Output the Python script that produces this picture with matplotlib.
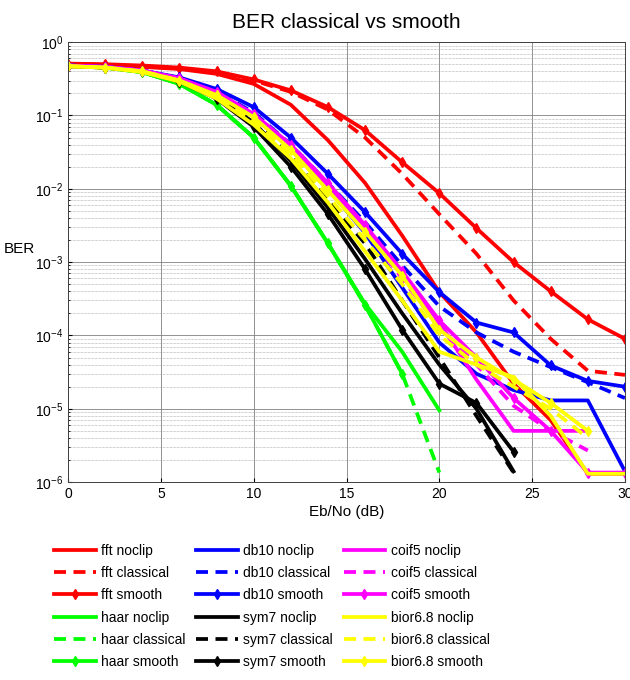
import numpy as np
import matplotlib
matplotlib.use("Agg")
import matplotlib.pyplot as plt
from matplotlib.ticker import LogLocator, FixedLocator

plt.rcParams["font.family"] = ["Liberation Sans", "DejaVu Sans"]
plt.rcParams["mathtext.default"] = "regular"

nan = np.nan
ebno = [0, 2, 4, 6, 8, 10, 12, 14, 16, 18, 20, 22, 24, 26, 28, 30]

# BER per transform and clipping method
fft_noclip = [0.50, 0.49, 0.46, 0.43, 0.37, 0.27, 0.14, 0.046, 0.012, 2.3e-3, 3.9e-4, 1.1e-4, 2.2e-5, 7e-6, 1.3e-6, 1.3e-6]
fft_classical = [0.50, 0.49, 0.47, 0.44, 0.39, 0.30, 0.21, 0.12, 0.05, 0.016, 4.5e-3, 1.3e-3, 3e-4, 9e-5, 3.3e-5, 2.9e-5]
fft_smooth = [0.51, 0.50, 0.48, 0.45, 0.40, 0.31, 0.22, 0.13, 0.063, 0.023, 8.7e-3, 2.9e-3, 1.0e-3, 4.0e-4, 1.66e-4, 9e-5]

haar_noclip = [0.48, 0.45, 0.39, 0.27, 0.14, 0.05, 0.011, 1.8e-3, 2.7e-4, 6e-5, 9.5e-6, nan, nan, nan, nan, nan]
haar_classical = [0.48, 0.45, 0.39, 0.27, 0.14, 0.05, 0.011, 1.8e-3, 2.6e-4, 3e-5, 1.35e-6, nan, nan, nan, nan, nan]
haar_smooth = [0.48, 0.45, 0.39, 0.27, 0.14, 0.05, 0.011, 1.8e-3, 2.6e-4, 3e-5, nan, nan, nan, nan, nan, nan]

db10_noclip = [0.48, 0.46, 0.41, 0.32, 0.20, 0.10, 0.035, 0.010, 2.5e-3, 4.5e-4, 8e-5, 3e-5, 1.8e-5, 1.3e-5, 1.3e-5, 1.4e-6]
db10_classical = [0.48, 0.46, 0.41, 0.32, 0.21, 0.11, 0.040, 0.012, 3.5e-3, 9e-4, 2.5e-4, 1.1e-4, 6e-5, 3.7e-5, 2.3e-5, 1.4e-5]
db10_smooth = [0.48, 0.46, 0.41, 0.33, 0.23, 0.13, 0.050, 0.016, 4.8e-3, 1.3e-3, 3.9e-4, 1.5e-4, 1.1e-4, 3.9e-5, 2.4e-5, 2e-5]

sym7_noclip = [0.47, 0.45, 0.40, 0.30, 0.18, 0.080, 0.024, 5.5e-3, 1.1e-3, 2e-4, 4e-5, 1e-5, 1.4e-6, nan, nan, nan]
sym7_classical = [0.48, 0.46, 0.41, 0.31, 0.19, 0.085, 0.028, 7e-3, 1.8e-3, 3e-4, 5e-5, 8e-6, 1.35e-6, nan, nan, nan]
sym7_smooth = [0.47, 0.45, 0.40, 0.29, 0.17, 0.070, 0.020, 4.5e-3, 8e-4, 1.2e-4, 2.2e-5, 1.2e-5, 2.6e-6, nan, nan, nan]

coif5_noclip = [0.48, 0.46, 0.41, 0.32, 0.20, 0.10, 0.038, 0.011, 3e-3, 7e-4, 1.5e-4, 2.5e-5, 5e-6, 5e-6, 5e-6, nan]
coif5_classical = [0.48, 0.46, 0.41, 0.32, 0.20, 0.10, 0.036, 0.010, 2.7e-3, 6e-4, 1.3e-4, 4e-5, 1.1e-5, 5e-6, 2.7e-6, nan]
coif5_smooth = [0.48, 0.46, 0.41, 0.32, 0.21, 0.105, 0.040, 0.012, 3.2e-3, 7.5e-4, 1.6e-4, 5e-5, 1.4e-5, 5e-6, 1.35e-6, 1.35e-6]

bior_noclip = [0.47, 0.45, 0.39, 0.29, 0.17, 0.075, 0.026, 6.5e-3, 1.4e-3, 3e-4, 6e-5, 4e-5, 2.7e-5, 8e-6, 1.3e-6, 1.3e-6]
bior_classical = [0.47, 0.45, 0.40, 0.30, 0.18, 0.085, 0.030, 8e-3, 2e-3, 5e-4, 1e-4, 4e-5, 2e-5, 1e-5, 4e-6, nan]
bior_smooth = [0.47, 0.45, 0.40, 0.30, 0.19, 0.095, 0.034, 9.5e-3, 2.6e-3, 6.5e-4, 1.2e-4, 5e-5, 2.5e-5, 1.2e-5, 5e-6, nan]

series = [
    ("fft", "#ff0000", fft_noclip, fft_classical, fft_smooth),
    ("haar", "#00ff00", haar_noclip, haar_classical, haar_smooth),
    ("db10", "#0000ff", db10_noclip, db10_classical, db10_smooth),
    ("sym7", "#000000", sym7_noclip, sym7_classical, sym7_smooth),
    ("coif5", "#ff00ff", coif5_noclip, coif5_classical, coif5_smooth),
    ("bior6.8", "#ffff00", bior_noclip, bior_classical, bior_smooth),
]

fig = plt.figure(figsize=(6.3, 6.8), dpi=100)
ax = fig.add_axes([0.108, 0.291, 0.884, 0.647])

lw = 2.7
for name, color, noclip, classical, smooth in series:
    ax.semilogy(ebno, noclip, color=color, lw=lw, label=f"{name} noclip")
    ax.semilogy(ebno, classical, color=color, lw=lw, ls=(0, (3.2, 2.0)),
                label=f"{name} classical")
    ax.semilogy(ebno, smooth, color=color, lw=lw, marker="d", ms=5,
                label=f"{name} smooth")

ax.set_xlim(0, 30)
ax.set_ylim(1e-6, 1)
ax.xaxis.set_major_locator(FixedLocator([0, 5, 10, 15, 20, 25, 30]))
ax.yaxis.set_major_locator(LogLocator(base=10, numticks=10))
ax.yaxis.set_minor_locator(LogLocator(base=10, subs=np.arange(2, 10), numticks=20))
ax.grid(True, which="major", color="#808080", lw=0.6)
ax.grid(True, which="minor", color="#a0a0a0", lw=0.5, ls=(0, (1, 1)))
ax.tick_params(which="both", direction="in", labelsize=10, length=3)
ax.tick_params(which="minor", length=1.5)
for s in ax.spines.values():
    s.set_color("#404040")
    s.set_linewidth(0.7)

ax.set_title("BER classical vs smooth", fontsize=15, pad=10)
ax.set_xlabel("Eb/No (dB)", fontsize=11, labelpad=3)
ax.set_ylabel("BER", fontsize=11, rotation=0)
ax.yaxis.set_label_coords(-0.088, 0.515)

fig.legend(loc="upper left", bbox_to_anchor=(0.066, 0.219), ncol=3,
           frameon=False, fontsize=10, handlelength=3.0, handletextpad=0.4,
           labelspacing=0.6, columnspacing=0.75)

fig.savefig("out.png", dpi=100, facecolor="white")
